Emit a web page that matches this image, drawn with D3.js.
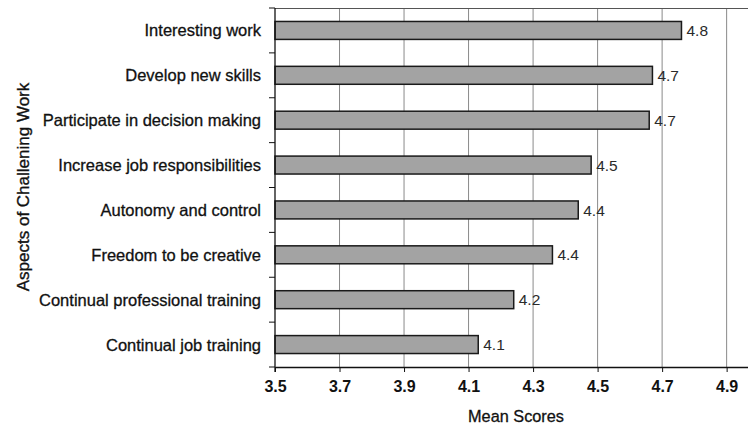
<!DOCTYPE html>
<html>
<head>
<meta charset="utf-8">
<script src="https://cdn.jsdelivr.net/npm/d3@7"></script>
<style>
  html, body { margin: 0; padding: 0; background: #fff; }
  svg { display: block; font-family: "Liberation Sans", Arial, Helvetica, sans-serif; }
</style>
</head>
<body>
<svg id="chart" width="748" height="424"></svg>
<script>
// Aspects of challenging work, ranked by mean score
const categories = [
  "Interesting work",
  "Develop new skills",
  "Participate in decision making",
  "Increase job responsibilities",
  "Autonomy and control",
  "Freedom to be creative",
  "Continual professional training",
  "Continual job training"
];
const meanScores = [4.76, 4.67, 4.66, 4.48, 4.44, 4.36, 4.24, 4.13];
const xTickValues = [3.5, 3.7, 3.9, 4.1, 4.3, 4.5, 4.7, 4.9];
const xTitle = "Mean Scores";
const yTitle = "Aspects of Challening Work";

const W = 748, H = 424;
const margin = { top: 8, right: 0, bottom: 57, left: 275 };
const innerW = W - margin.left - margin.right;
const innerH = H - margin.top - margin.bottom;

const svg = d3.select("#chart");
const g = svg.append("g").attr("transform", `translate(${margin.left},${margin.top})`);

// 0.2 units span about 64.5 px; the frame is cut off just past 4.9
const pxPerUnit = 322.6;
const x = d3.scaleLinear()
  .domain([3.5, 3.5 + innerW / pxPerUnit])
  .range([0, innerW]);

const y = d3.scaleBand()
  .domain(categories)
  .range([0, innerH])
  .paddingInner(0.6)
  .paddingOuter(0.3);

// vertical grid lines
g.append("g")
  .selectAll("line")
  .data(xTickValues.slice(1))
  .join("line")
  .attr("x1", d => x(d)).attr("x2", d => x(d))
  .attr("y1", 0).attr("y2", innerH)
  .attr("stroke", "#8a8a8a")
  .attr("stroke-width", 1);

// top frame line
g.append("line")
  .attr("x1", 0).attr("x2", innerW)
  .attr("y1", 0.5).attr("y2", 0.5)
  .attr("stroke", "#555").attr("stroke-width", 1);

// bars
const rows = categories.map((c, i) => ({ c, v: meanScores[i] }));
g.append("g")
  .selectAll("rect")
  .data(rows)
  .join("rect")
  .attr("x", x(3.5))
  .attr("y", d => y(d.c))
  .attr("width", d => x(d.v) - x(3.5))
  .attr("height", y.bandwidth())
  .attr("fill", "#a3a3a3")
  .attr("stroke", "#1a1a1a")
  .attr("stroke-width", 1.5);

// value labels
const fmt = d3.format(".1f");
g.append("g")
  .selectAll("text")
  .data(rows)
  .join("text")
  .attr("x", d => x(d.v) + 5)
  .attr("y", d => y(d.c) + y.bandwidth() / 2)
  .attr("dy", "0.36em")
  .attr("font-size", 15.5)
  .attr("fill", "#2a2a2a")
  .text(d => fmt(d.v));

// x axis
const xAxis = g.append("g")
  .attr("transform", `translate(0,${innerH})`)
  .call(d3.axisBottom(x).tickValues(xTickValues).tickFormat(d3.format(".1f")).tickSize(5).tickSizeOuter(0));
xAxis.select(".domain").attr("stroke", "#111").attr("stroke-width", 1.3);
xAxis.selectAll(".tick line").attr("stroke", "#111");
xAxis.selectAll(".tick text")
  .attr("font-size", 16)
  .attr("font-weight", "bold")
  .attr("fill", "#111")
  .attr("font-family", "Liberation Sans, Arial, sans-serif")
  .attr("y", 0)
  .attr("dy", "1.59em");

// y axis: category labels centred on bands, ticks at band boundaries
g.append("line")
  .attr("x1", 0).attr("x2", 0)
  .attr("y1", 0).attr("y2", innerH + 5)
  .attr("stroke", "#111").attr("stroke-width", 1.3);

const boundaries = d3.range(categories.length + 1).map(i => i * y.step());
g.append("g")
  .selectAll("line")
  .data(boundaries)
  .join("line")
  .attr("x1", -6).attr("x2", 0)
  .attr("y1", d => d).attr("y2", d => d)
  .attr("stroke", "#111");

g.append("g")
  .selectAll("text")
  .data(categories)
  .join("text")
  .attr("x", -14)
  .attr("y", d => y(d) + y.bandwidth() / 2)
  .attr("dy", "0.36em")
  .attr("text-anchor", "end")
  .attr("font-size", 16.5)
  .attr("fill", "#111")
  .attr("stroke", "#111")
  .attr("stroke-width", 0.3)
  .text(d => d);

// axis titles
svg.append("text")
  .attr("x", 516)
  .attr("y", 416)
  .attr("dy", "0.36em")
  .attr("text-anchor", "middle")
  .attr("font-size", 16.3)
  .attr("fill", "#111")
  .attr("stroke", "#111")
  .attr("stroke-width", 0.3)
  .text(xTitle);

svg.append("text")
  .attr("transform", `translate(23,187) rotate(-90)`)
  .attr("dy", "0.36em")
  .attr("text-anchor", "middle")
  .attr("font-size", 17)
  .attr("fill", "#111")
  .attr("stroke", "#111")
  .attr("stroke-width", 0.35)
  .text(yTitle);
</script>
</body>
</html>
